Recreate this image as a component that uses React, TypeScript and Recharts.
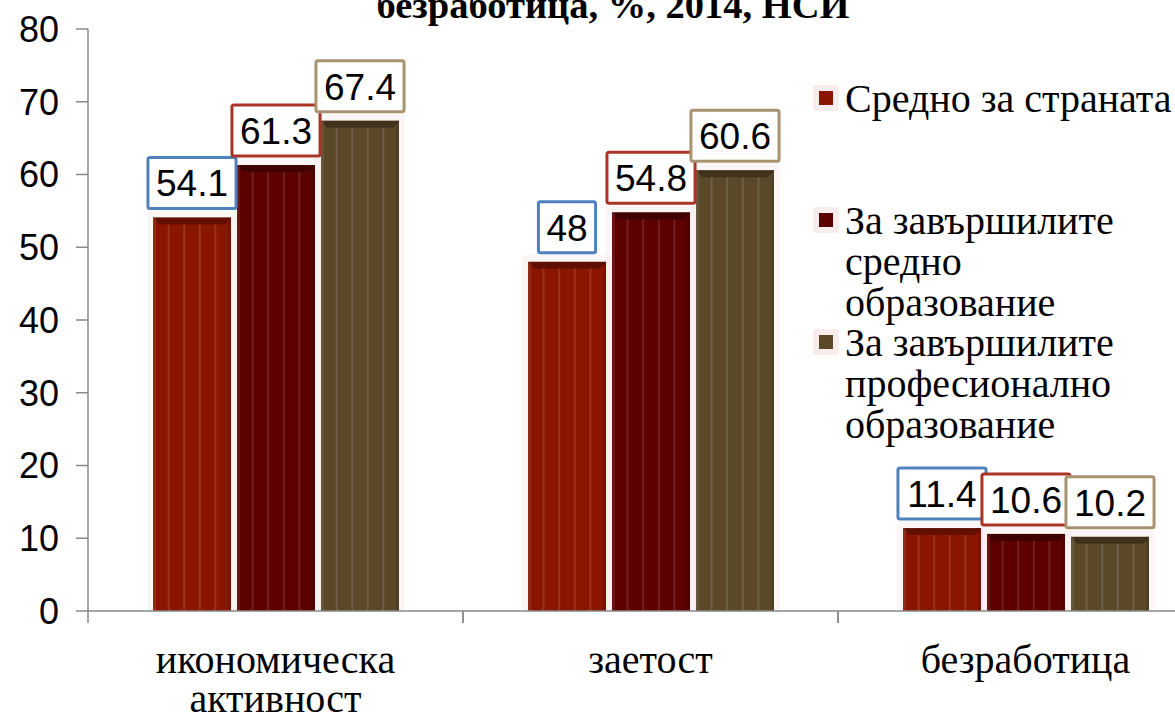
import React from 'react';
import { BarChart, Bar, XAxis, YAxis, Legend, LabelList } from 'recharts';

// categories and series values
const categories = ['икономическа активност', 'заетост', 'безработица'];
const seriesNames = [
  'Средно за страната',
  'За завършилите средно образование',
  'За завършилите професионално образование',
];
const nationalAverage = [54.1, 48, 11.4];
const secondaryEducation = [61.3, 54.8, 10.6];
const vocationalEducation = [67.4, 60.6, 10.2];
const yTicks = [0, 10, 20, 30, 40, 50, 60, 70, 80];
const legendLines = [
  ['Средно за страната'],
  ['За завършилите', 'средно', 'образование'],
  ['За завършилите', 'професионално', 'образование'],
];
const title = 'безработица, %, 2014, НСИ';

const barColors = ['#8a1600', '#5c0000', '#5a4829'];
const boxColors = ['#4f81bd', '#ab3428', '#a8936f'];
const serifFont = '"Liberation Serif", "Times New Roman", serif';
const sansFont = '"Liberation Sans", Arial, sans-serif';

const data = categories.map((category, i) => ({
  category,
  s0: nationalAverage[i],
  s1: secondaryEducation[i],
  s2: vocationalEducation[i],
}));

// bar with a pale glow, darker top bevel and faint vertical stripes
const GlassBar = (props: any) => {
  const { x, y, width, height, fill } = props;
  if (!height || height <= 0) return null;
  const stripes = [1, 2, 3, 4].map((i) => x + (width * i) / 5);
  return (
    <g>
      <rect x={x - 6} y={y - 7} width={width + 12} height={height + 7} fill="#f7eaea" opacity={0.45} rx={4} />
      <rect x={x} y={y} width={width} height={height} fill={fill} />
      <polygon
        points={`${x},${y} ${x + width},${y} ${x + width - 6},${y + 7} ${x + 6},${y + 7}`}
        fill="#000"
        opacity={0.3}
      />
      <rect x={x} y={y} width={3} height={height} fill="#fff" opacity={0.08} />
      <rect x={x + width - 3} y={y} width={3} height={height} fill="#000" opacity={0.12} />
      {stripes.map((sx, i) => (
        <line key={i} x1={sx} x2={sx} y1={y + 7} y2={y + height} stroke="#fff" strokeOpacity={0.13} strokeWidth={2} />
      ))}
    </g>
  );
};

const makeValueBox = (stroke: string) => (props: any) => {
  const { x, y, width, value } = props;
  const text = String(value);
  const textWidth = text.split('').reduce((s, ch) => s + (ch === '.' ? 10.3 : 20.6), 0);
  const bw = textWidth + 16;
  const bh = 51;
  const cx = x + width / 2;
  const bottom = y - 9;
  return (
    <g>
      <rect x={cx - bw / 2} y={bottom - bh} width={bw} height={bh} fill="#fff" stroke={stroke} strokeWidth={3} rx={2} />
      <text x={cx} y={bottom - 12} textAnchor="middle" fontFamily={sansFont} fontSize={37} fill="#000">
        {text}
      </text>
    </g>
  );
};

const CategoryTick = (props: any) => {
  const { x, y, payload } = props;
  const half = payload && payload.offset ? payload.offset : 187.5;
  const lines = String(payload.value).split(' ');
  return (
    <g>
      <line x1={x - half} x2={x - half} y1={y} y2={y + 12} stroke="#888" strokeWidth={1.5} />
      <line x1={x + half} x2={x + half} y1={y} y2={y + 12} stroke="#888" strokeWidth={1.5} />
      {lines.map((ln, i) => (
        <text key={i} x={x} y={y + 62 + i * 39} textAnchor="middle" fontFamily={serifFont} fontSize={40} fill="#000">
          {ln}
        </text>
      ))}
    </g>
  );
};

const SideLegend = () => (
  <div style={{ fontFamily: serifFont, fontSize: 40, lineHeight: '41px', color: '#000' }}>
    {legendLines.map((lines, i) => (
      <div key={i} style={{ position: 'relative', height: 122, paddingLeft: 33 }}>
        <div
          style={{
            position: 'absolute',
            left: 1,
            top: 7,
            width: 26,
            height: 26,
            background: '#f8ecec',
            borderRadius: 3,
          }}
        />
        <div
          style={{
            position: 'absolute',
            left: 7,
            top: 13,
            width: 14,
            height: 14,
            background: barColors[i],
          }}
        />
        {lines.map((ln, j) => (
          <div key={j} style={{ whiteSpace: 'nowrap' }}>
            {ln}
          </div>
        ))}
      </div>
    ))}
  </div>
);

export default function App() {
  const seriesKeys = ['s0', 's1', 's2'];
  return (
    <div
      style={{
        position: 'absolute',
        left: 0,
        top: 0,
        width: 1175,
        height: 715,
        overflow: 'hidden',
        background: '#fff',
      }}
    >
      <div
        style={{
          position: 'absolute',
          left: 0,
          top: -14,
          width: 1226,
          textAlign: 'center',
          fontFamily: serifFont,
          fontWeight: 'bold',
          fontSize: 38.5,
          lineHeight: '38.5px',
          color: '#000',
          zIndex: 2,
        }}
      >
        {title}
      </div>
      <BarChart
        width={1230}
        height={715}
        data={data}
        margin={{ top: 29, right: 17, left: 0, bottom: 0 }}
        barCategoryGap={65}
        barGap={6}
      >
        <XAxis
          dataKey="category"
          height={104}
          tickSize={0}
          tickMargin={0}
          tickLine={false}
          axisLine={{ stroke: '#888', strokeWidth: 1.5 }}
          tick={<CategoryTick />}
          interval={0}
        />
        <YAxis
          width={88}
          domain={[0, 80]}
          ticks={yTicks}
          interval={0}
          tickSize={12}
          tickMargin={17}
          axisLine={{ stroke: '#888', strokeWidth: 1.5 }}
          tickLine={{ stroke: '#888', strokeWidth: 1.5 }}
          tick={{ fontFamily: sansFont, fontSize: 36, fill: '#000' }}
        />
        <Legend
          layout="vertical"
          align="center"
          verticalAlign="middle"
          wrapperStyle={{ left: 812, top: 78, width: 360 }}
          content={<SideLegend />}
        />
        {seriesKeys.map((key, i) => (
          <Bar
            key={key}
            dataKey={key}
            name={seriesNames[i]}
            fill={barColors[i]}
            shape={<GlassBar />}
            isAnimationActive={false}
          >
            <LabelList dataKey={key} content={makeValueBox(boxColors[i])} />
          </Bar>
        ))}
      </BarChart>
    </div>
  );
}
